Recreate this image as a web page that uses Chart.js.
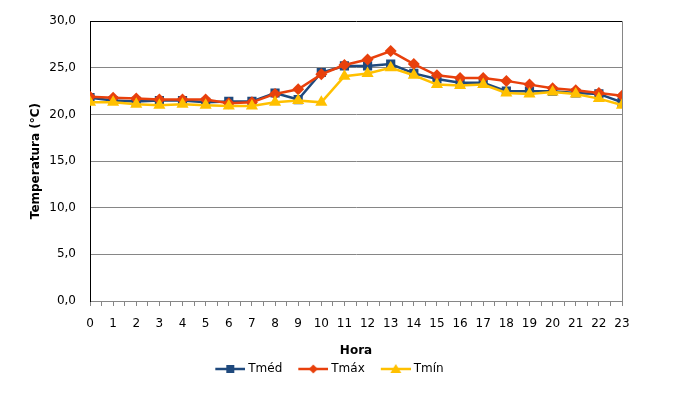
<!DOCTYPE html>
<html>
<head>
<meta charset="utf-8">
<script src="https://cdn.jsdelivr.net/npm/chart.js@4/dist/chart.umd.min.js"></script>
<style>
  html, body { margin: 0; padding: 0; background: #fff; }
  #wrap { width: 675px; height: 405px; }
</style>
</head>
<body>
<div id="wrap"><canvas id="tempChart" width="675" height="405"></canvas></div>
<script>
// Data
const hours = ['0', '1', '2', '3', '4', '5', '6', '7', '8', '9', '10', '11',
               '12', '13', '14', '15', '16', '17', '18', '19', '20', '21', '22', '23'];
const tMed = [21.8, 21.5, 21.4, 21.5, 21.5, 21.3, 21.4, 21.4, 22.3, 21.6, 24.5, 25.2,
              25.2, 25.4, 24.4, 23.8, 23.4, 23.4, 22.5, 22.5, 22.5, 22.3, 22.2, 21.3];
const tMax = [21.9, 21.8, 21.7, 21.6, 21.6, 21.6, 21.2, 21.3, 22.2, 22.7, 24.3, 25.3,
              25.9, 26.8, 25.4, 24.2, 23.9, 23.9, 23.6, 23.2, 22.8, 22.6, 22.3, 22.0];
const tMin = [21.3, 21.3, 21.1, 21.0, 21.1, 21.0, 20.9, 20.9, 21.3, 21.5, 21.3, 24.1,
              24.4, 25.0, 24.2, 23.2, 23.1, 23.2, 22.3, 22.2, 22.4, 22.2, 21.7, 21.0];
const yTickValues = [0, 5, 10, 15, 20, 25, 30];
const yTickLabels = ['0,0', '5,0', '10,0', '15,0', '20,0', '25,0', '30,0'];

const GRAY = '#868686';
const BLUE = '#1F497D';
const RED = '#E8400C';
const YELLOW = '#FFC000';

Chart.defaults.font.family = "'DejaVu Sans', Verdana, sans-serif";
Chart.defaults.font.size = 12;
Chart.defaults.color = '#000';

function toPoints(values) {
    return values.map((v, i) => ({ x: i, y: v }));
}

// legend icon: line segment with the marker in the middle
function legendIcon(color, shape) {
    const c = document.createElement('canvas');
    c.width = 45;
    c.height = 14;
    const g = c.getContext('2d');
    g.strokeStyle = color;
    g.fillStyle = color;
    g.lineWidth = 2.5;
    g.beginPath();
    g.moveTo(15, 7);
    g.lineTo(45, 7);
    g.stroke();
    const cx = 30, cy = 7;
    g.beginPath();
    if (shape === 'rect') {
        g.rect(cx - 4, cy - 4, 8, 8);
    } else if (shape === 'rectRot') {
        g.moveTo(cx, cy - 4.5);
        g.lineTo(cx + 4.5, cy);
        g.lineTo(cx, cy + 4.5);
        g.lineTo(cx - 4.5, cy);
        g.closePath();
    } else {
        g.moveTo(cx, cy - 5);
        g.lineTo(cx + 5.5, cy + 4);
        g.lineTo(cx - 5.5, cy + 4);
        g.closePath();
    }
    g.fill();
    return c;
}

const series = [
    { label: 'Tméd', data: tMed, color: BLUE, style: 'rect', radius: 6.5, order: 2 },
    { label: 'Tmáx', data: tMax, color: RED, style: 'rectRot', radius: 6, order: 1 },
    { label: 'Tmín', data: tMin, color: YELLOW, style: 'triangle', radius: 7, order: 0 }
];

const rightBorder = {
    id: 'rightBorder',
    afterDraw(chart) {
        const { ctx, chartArea } = chart;
        ctx.save();
        ctx.strokeStyle = GRAY;
        ctx.lineWidth = 1;
        ctx.beginPath();
        ctx.moveTo(Math.round(chartArea.right) + 0.5, chartArea.top);
        ctx.lineTo(Math.round(chartArea.right) + 0.5, chartArea.bottom);
        ctx.stroke();
        ctx.restore();
    }
};

new Chart(document.getElementById('tempChart'), {
    type: 'line',
    data: {
        datasets: series.map(s => ({
            label: s.label,
            data: toPoints(s.data),
            borderColor: s.color,
            backgroundColor: s.color,
            borderWidth: 2.5,
            pointStyle: s.style,
            pointRadius: s.radius,
            pointBorderWidth: 0,
            pointBackgroundColor: s.color,
            tension: 0,
            fill: false,
            order: s.order
        }))
    },
    options: {
        responsive: false,
        animation: false,
        devicePixelRatio: 1,
        layout: { padding: { left: 25, right: 53, top: 20, bottom: 20 } },
        plugins: {
            tooltip: { enabled: false },
            legend: {
                position: 'bottom',
                labels: {
                    usePointStyle: true,
                    pointStyleWidth: 39,
                    padding: 4,
                    font: { size: 12 },
                    generateLabels: () => series.map(s => ({
                        text: s.label,
                        pointStyle: legendIcon(s.color, s.style),
                        fillStyle: s.color,
                        strokeStyle: s.color,
                        lineWidth: 0,
                        hidden: false
                    }))
                }
            }
        },
        scales: {
            x: {
                type: 'linear',
                min: 0,
                max: hours.length - 1,
                afterFit: scale => { scale.height = 58; },
                afterBuildTicks: scale => {
                    const ticks = [];
                    for (let i = 0; i < hours.length * 2 - 1; i++) ticks.push({ value: i / 2 });
                    scale.ticks = ticks;
                },
                ticks: {
                    autoSkip: false,
                    maxRotation: 0,
                    padding: 11,
                    callback: v => Number.isInteger(v) ? hours[v] : ''
                },
                grid: {
                    drawOnChartArea: false,
                    drawTicks: true,
                    tickLength: 5,
                    color: GRAY
                },
                border: { color: GRAY, width: 1 },
                title: {
                    display: true,
                    text: 'Hora',
                    font: { size: 12, weight: 'bold' },
                    padding: { top: 0, bottom: 0.8 }
                }
            },
            y: {
                min: 0,
                max: 30,
                afterFit: scale => { scale.width = 65; },
                afterBuildTicks: scale => {
                    scale.ticks = yTickValues.map(v => ({ value: v }));
                },
                ticks: {
                    padding: 14,
                    callback: v => yTickLabels[yTickValues.indexOf(v)]
                },
                grid: {
                    drawTicks: false,
                    color: ctx => ctx.tick && ctx.tick.value === 30 ? '#000' : GRAY,
                    lineWidth: 1
                },
                border: { color: '#000', width: 1 },
                title: {
                    display: true,
                    text: 'Temperatura (°C)',
                    font: { size: 12, weight: 'bold', lineHeight: 0.5 },
                    padding: { top: 8, bottom: 0 }
                }
            }
        }
    },
    plugins: [rightBorder]
});
</script>
</body>
</html>
